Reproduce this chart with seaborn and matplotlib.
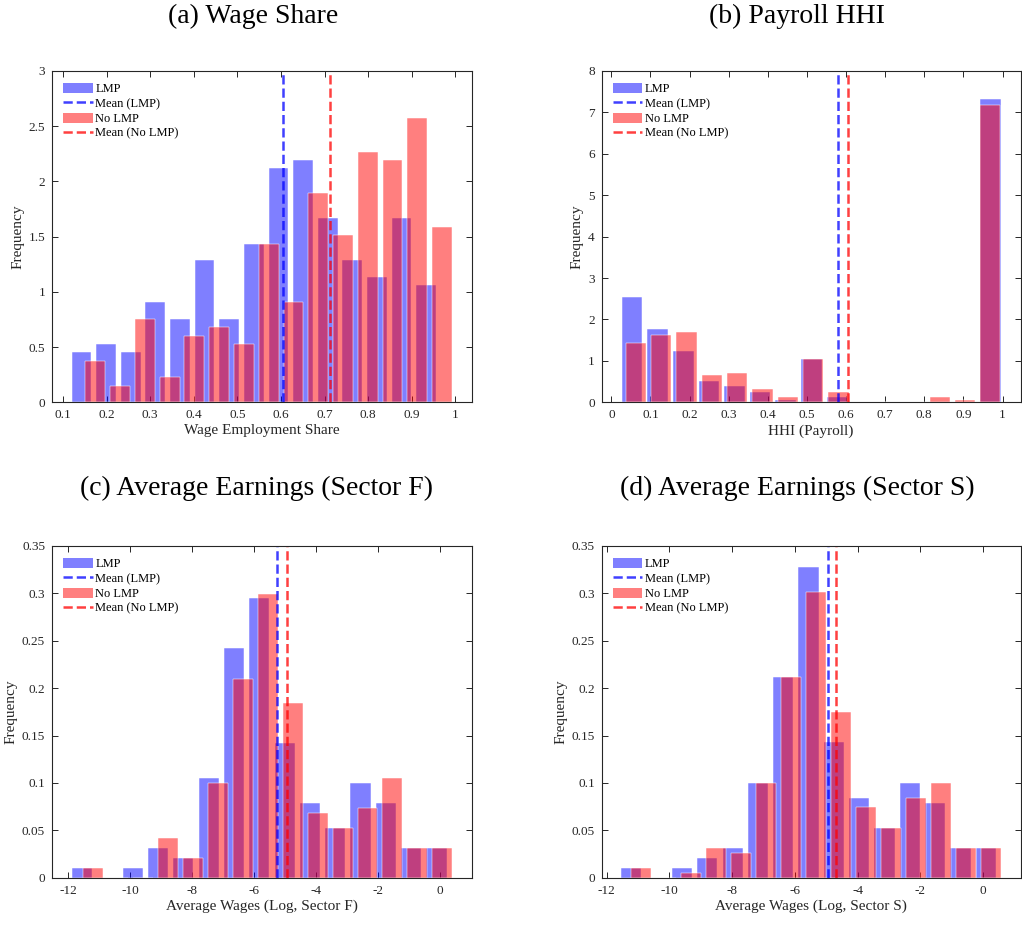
import numpy as np
import pandas as pd
import matplotlib
matplotlib.use("Agg")
import matplotlib.pyplot as plt
from matplotlib.patches import Patch
from matplotlib.lines import Line2D
from matplotlib.ticker import FuncFormatter
import seaborn as sns

# ---------------- data ----------------
# (a) Wage employment share: density per bin; bins given by first centre and width
a_lmp_first, a_lmp_width = 0.1424, 0.05647
a_lmp = [0.453, 0.528, 0.453, 0.906, 0.755, 1.286, 0.755, 1.437, 2.119, 2.194,
         1.666, 1.286, 1.135, 1.666, 1.059]
a_nolmp_first, a_nolmp_width = 0.1742, 0.0568
a_nolmp = [0.377, 0.151, 0.755, 0.226, 0.604, 0.679, 0.528, 1.437, 0.906, 1.893,
           1.515, 2.270, 2.194, 2.572, 1.588]
a_mean_lmp, a_mean_nolmp = 0.6047, 0.7133

# (b) HHI (Payroll)
b_lmp_first, b_lmp_width = 0.0528, 0.0655
b_lmp = [2.543, 1.763, 1.239, 0.515, 0.386, 0.258, 0.056, 1.038, 0.129, 0,
         0, 0, 0, 0, 7.316]
b_nolmp_first, b_nolmp_width = 0.063, 0.0647
b_nolmp = [1.433, 1.626, 1.690, 0.652, 0.716, 0.322, 0.129, 1.038, 0.258, 0,
           0, 0, 0.129, 0.064, 7.18]
b_mean_lmp, b_mean_nolmp = 0.5796, 0.605

# (c) Average wages (log, sector F)
c_lmp_first, c_lmp_width = -11.548, 0.818
c_lmp = [0.0102, 0, 0.0102, 0.0313, 0.0208, 0.105, 0.242, 0.295, 0.142, 0.0788,
         0.0528, 0.0999, 0.0788, 0.0313, 0.0313]
c_nolmp_first, c_nolmp_width = -11.182, 0.805
c_nolmp = [0.0102, 0, 0, 0.0419, 0.0208, 0.0999, 0.210, 0.2997, 0.184, 0.0682,
           0.0528, 0.0735, 0.105, 0.0313, 0.0313]
c_mean_lmp, c_mean_nolmp = -5.262, -4.939

# (d) Average wages (log, sector S)
d_lmp_first, d_lmp_width = -11.215, 0.807
d_lmp = [0.0102, 0, 0.0102, 0.0208, 0.0313, 0.100, 0.2118, 0.328, 0.1432, 0.0844,
         0.0528, 0.100, 0.0788, 0.0313, 0.0313]
d_nolmp_first, d_nolmp_width = -10.918, 0.7965
d_nolmp = [0.0102, 0, 0.0049, 0.0313, 0.0264, 0.100, 0.2118, 0.3018, 0.1748, 0.0742,
           0.0528, 0.0845, 0.100, 0.0313, 0.0313]
d_mean_lmp, d_mean_nolmp = -4.944, -4.679

titles = ["(a) Wage Share", "(b) Payroll HHI",
          "(c) Average Earnings (Sector F)", "(d) Average Earnings (Sector S)"]
xlabels = ["Wage Employment Share", "HHI (Payroll)",
           "Average Wages (Log, Sector F)", "Average Wages (Log, Sector S)"]
legend_labels = ["LMP", "Mean (LMP)", "No LMP", "Mean (No LMP)"]

# ---------------- style ----------------
sns.set_style("ticks")
plt.rcParams["font.family"] = ["Liberation Serif", "DejaVu Serif"]
plt.rcParams["axes.unicode_minus"] = False

DARK = "#262626"
BLUE = "#0000ff"
RED = "#ff0000"

W, H = 1022, 925
fig = plt.figure(figsize=(W / 100, H / 100), dpi=100)


def px_axes(l, t, r, b):
    return fig.add_axes([l / W, 1 - b / H, (r - l) / W, (b - t) / H])


axes_px = [(52, 71, 472, 402.3), (601.7, 71, 1020.5, 402.3),
           (52, 546, 472, 877.7), (601.7, 546, 1020.5, 877.7)]
title_pos = [(253, 22.7), (797, 22.7), (256.5, 495.5), (797.5, 495.5)]

panels = [
    (a_lmp_first, a_lmp_width, a_lmp, a_nolmp_first, a_nolmp_width, a_nolmp,
     a_mean_lmp, a_mean_nolmp, (0.0748, 1.0382), (0, 3), np.arange(0.1, 1.01, 0.1), np.arange(0, 3.01, 0.5)),
    (b_lmp_first, b_lmp_width, b_lmp, b_nolmp_first, b_nolmp_width, b_nolmp,
     b_mean_lmp, b_mean_nolmp, (-0.0247, 1.046), (0, 8), np.arange(0, 1.01, 0.1), np.arange(0, 8.01, 1)),
    (c_lmp_first, c_lmp_width, c_lmp, c_nolmp_first, c_nolmp_width, c_nolmp,
     c_mean_lmp, c_mean_nolmp, (-12.517, 1.047), (0, 0.35), np.arange(-12, 0.01, 2), np.arange(0, 0.351, 0.05)),
    (d_lmp_first, d_lmp_width, d_lmp, d_nolmp_first, d_nolmp_width, d_nolmp,
     d_mean_lmp, d_mean_nolmp, (-12.16, 1.188), (0, 0.35), np.arange(-12, 0.01, 2), np.arange(0, 0.351, 0.05)),
]

fmt = FuncFormatter(lambda v, p: ("%g" % round(v, 6)))


def hist_from(ax, first, width, heights, color):
    n = len(heights)
    centers = first + width * np.arange(n)
    lo = first - width / 2
    hi = lo + width * n
    df = pd.DataFrame({"x": centers, "w": np.asarray(heights, dtype=float)})
    sns.histplot(data=df, x="x", weights="w", bins=n, binrange=(lo, hi),
                 stat="count", shrink=0.8, color=color, alpha=0.5,
                 edgecolor="white", linewidth=0.35, ax=ax)


for i, (lf, lw_, lh, nf, nw, nh, ml, mn, xl, yl, xt, yt) in enumerate(panels):
    ax = px_axes(*axes_px[i])
    hist_from(ax, lf, lw_, lh, BLUE)
    ax.axvline(ml, color=BLUE, ls="--", lw=1.8, alpha=0.75)
    hist_from(ax, nf, nw, nh, RED)
    ax.axvline(mn, color=RED, ls="--", lw=1.8, alpha=0.75)

    ax.set_xlim(*xl)
    ax.set_ylim(*yl)
    ax.set_xticks(xt)
    ax.set_yticks(yt)
    ax.xaxis.set_major_formatter(fmt)
    ax.yaxis.set_major_formatter(fmt)
    ax.tick_params(direction="in", length=4, width=0.7, top=True, right=True,
                   labelsize=9.5, colors=DARK, pad=5)
    for s in ax.spines.values():
        s.set_visible(True)
        s.set_color(DARK)
        s.set_linewidth(0.8)
    ax.set_xlabel(xlabels[i], fontsize=11, color=DARK, labelpad=2)
    ax.set_ylabel("Frequency", fontsize=11, color=DARK, labelpad=3)

    handles = [Patch(facecolor=BLUE, alpha=0.5, edgecolor="none"),
               Line2D([], [], color=BLUE, ls="--", lw=1.8, alpha=0.75),
               Patch(facecolor=RED, alpha=0.5, edgecolor="none"),
               Line2D([], [], color=RED, ls="--", lw=1.8, alpha=0.75)]
    l, t, r, b = axes_px[i]
    leg = ax.legend(handles, legend_labels, loc="upper left",
                    bbox_to_anchor=(11.3 / (r - l), 1 - 12 / (b - t)),
                    frameon=False, fontsize=9, borderpad=0, borderaxespad=0,
                    handlelength=2.35, handleheight=0.85, handletextpad=0.2,
                    labelspacing=0.2)
    for txt in leg.get_texts():
        txt.set_color("black")

    tx, ty = title_pos[i]
    fig.text(tx / W, 1 - ty / H, titles[i], fontsize=20, ha="center",
             va="baseline", color="black")

fig.savefig("out.png", dpi=100)
